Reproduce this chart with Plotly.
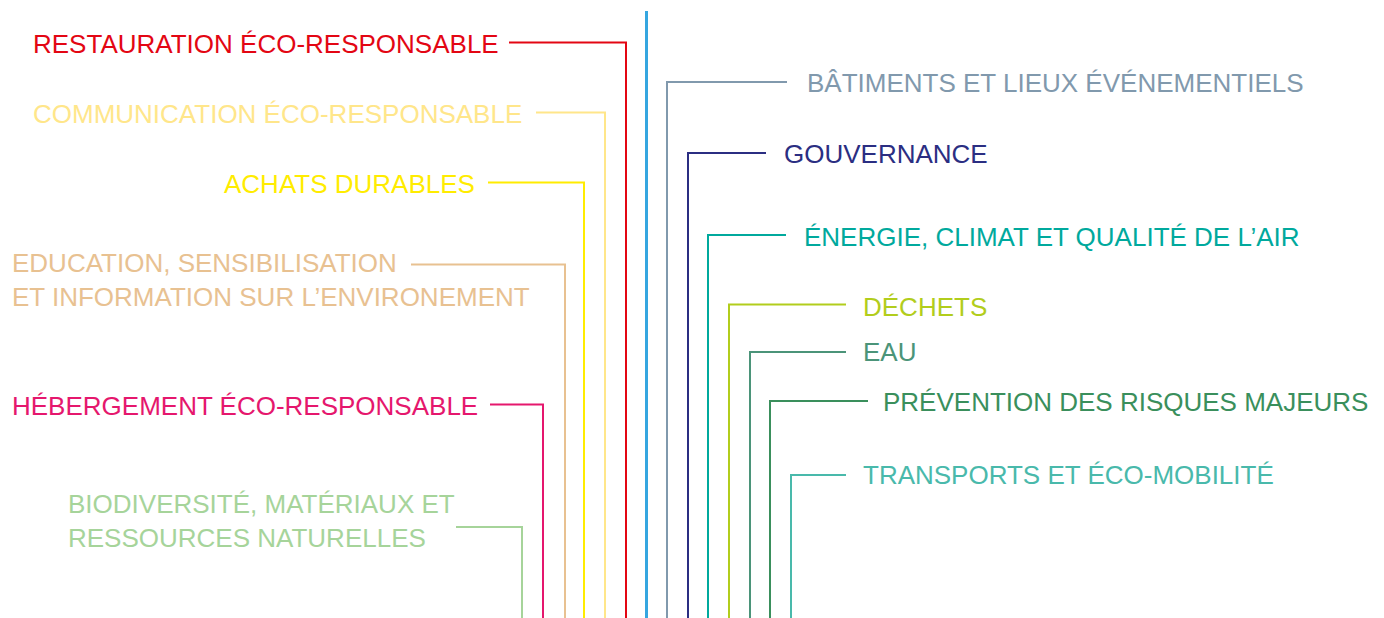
import plotly.graph_objects as go

W, H = 1384, 618

# ---- Data: themes branching from the central axis ----
labels = [
    "RESTAURATION ÉCO-RESPONSABLE",
    "COMMUNICATION ÉCO-RESPONSABLE",
    "ACHATS DURABLES",
    "EDUCATION, SENSIBILISATION<br>ET INFORMATION SUR L’ENVIRONEMENT",
    "HÉBERGEMENT ÉCO-RESPONSABLE",
    "BIODIVERSITÉ, MATÉRIAUX ET<br>RESSOURCES NATURELLES",
    "BÂTIMENTS ET LIEUX ÉVÉNEMENTIELS",
    "GOUVERNANCE",
    "ÉNERGIE, CLIMAT ET QUALITÉ DE L’AIR",
    "DÉCHETS",
    "EAU",
    "PRÉVENTION DES RISQUES MAJEURS",
    "TRANSPORTS ET ÉCO-MOBILITÉ",
]
colors = [
    "#e30613", "#ffe68a", "#ffec00", "#e8c191", "#e5176d", "#a6d49a",
    "#8199ad", "#2b2e82", "#00a99d", "#b2cd1c", "#4b9479", "#3a8f5c", "#49b9ab",
]
branch_x = [626, 605, 584, 565, 543, 522, 667, 688, 708, 729, 750, 770, 791]
stub_x = [509, 536, 488, 411, 490, 456, 787, 766, 786, 846, 846, 868, 846]
branch_y = [42.5, 112.5, 182.5, 264.5, 404.5, 527, 82, 153, 235, 304.5, 352, 401, 475]
text_x = [32, 32, 223, 11, 11, 67, 806, 783, 803, 862, 862, 882, 862]
text_y = [43.5, 113.5, 184, 279.5, 405.5, 521, 83, 154, 237, 307, 352, 402, 475]

axis_x = 646.5
axis_top = 11
bottom = H

fig = go.Figure()

# central axis
fig.add_trace(go.Scatter(
    x=[axis_x, axis_x], y=[axis_top, bottom], mode="lines",
    line=dict(color="#35a6e0", width=3), hoverinfo="skip", showlegend=False,
))

for lab, col, bx, sx, by in zip(labels, colors, branch_x, stub_x, branch_y):
    fig.add_trace(go.Scatter(
        x=[sx, bx, bx], y=[by, by, bottom], mode="lines",
        line=dict(color=col, width=2), hoverinfo="skip", showlegend=False,
    ))

for lab, col, tx, ty in zip(labels, colors, text_x, text_y):
    fig.add_annotation(
        x=tx, y=ty, text=lab, showarrow=False, xanchor="left", yanchor="middle",
        align="left", font=dict(family="Liberation Sans, Arial, sans-serif", size=26, color=col),
        borderpad=0,
    )

fig.update_layout(
    width=W, height=H, margin=dict(l=0, r=0, t=0, b=0),
    paper_bgcolor="white", plot_bgcolor="white",
    xaxis=dict(range=[0, W], visible=False, fixedrange=True),
    yaxis=dict(range=[H, 0], visible=False, fixedrange=True),
)

fig.write_html("out.html", config={"displayModeBar": False},
               post_script="document.body.style.margin='0';")
